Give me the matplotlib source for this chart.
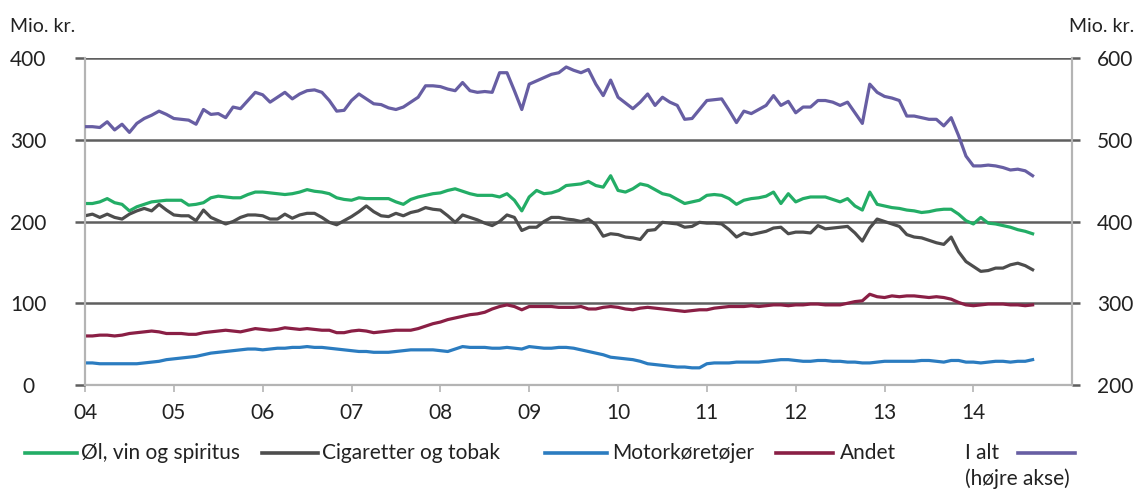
import numpy as np
import matplotlib
matplotlib.use('Agg')
import matplotlib.pyplot as plt
from matplotlib.lines import Line2D

plt.rcParams['font.family'] = ['Lato', 'DejaVu Sans']

# monthly values, jan 2004 - sep 2014 (mio. kr.)
ol_vin = [222, 222, 224, 228, 223, 221, 213, 218, 221, 224, 225, 226,
          226, 226, 220, 221, 223, 229, 231, 230, 229, 229, 233, 236,
          236, 235, 234, 233, 234, 236, 239, 237, 236, 234, 229, 227,
          226, 229, 228, 228, 228, 228, 224, 221, 227, 230, 232, 234,
          235, 238, 240, 237, 234, 232, 232, 232, 230, 234, 226, 213,
          230, 238, 234, 235, 238, 244, 245, 246, 249, 244, 242, 256,
          238, 236, 240, 246, 244, 239, 234, 232, 227, 222, 224, 226,
          232, 233, 232, 228, 221, 226, 228, 229, 231, 236, 222, 234,
          224, 228, 230, 230, 230, 227, 224, 228, 219, 214, 236, 221,
          219, 217, 216, 214, 213, 211, 212, 214, 215, 215, 209, 201,
          197, 205, 198, 197, 195, 193, 190, 188, 185]
cigaretter = [207, 209, 205, 209, 205, 203, 209, 213, 216, 213, 221, 214,
              208, 207, 207, 201, 214, 205, 201, 197, 200, 205, 208, 208,
              207, 203, 203, 209, 204, 208, 210, 210, 205, 199, 196, 201,
              206, 212, 219, 212, 207, 206, 210, 207, 211, 213, 217, 215,
              214, 207, 199, 208, 205, 202, 198, 195, 200, 208, 205, 189,
              193, 193, 200, 205, 205, 203, 202, 200, 203, 196, 182, 185,
              184, 181, 180, 178, 189, 190, 199, 198, 197, 193, 194, 199,
              198, 198, 197, 190, 181, 186, 184, 186, 188, 192, 193, 185,
              187, 187, 186, 195, 191, 192, 193, 194, 186, 176, 192, 203,
              200, 197, 194, 184, 181, 180, 177, 174, 172, 181, 163, 151,
              145, 139, 140, 143, 143, 147, 149, 146, 141]
motor = [27, 27, 26, 26, 26, 26, 26, 26, 27, 28, 29, 31,
         32, 33, 34, 35, 37, 39, 40, 41, 42, 43, 44, 44,
         43, 44, 45, 45, 46, 46, 47, 46, 46, 45, 44, 43,
         42, 41, 41, 40, 40, 40, 41, 42, 43, 43, 43, 43,
         42, 41, 44, 47, 46, 46, 46, 45, 45, 46, 45, 44,
         47, 46, 45, 45, 46, 46, 45, 43, 41, 39, 37, 34,
         33, 32, 31, 29, 26, 25, 24, 23, 22, 22, 21, 21,
         26, 27, 27, 27, 28, 28, 28, 28, 29, 30, 31, 31,
         30, 29, 29, 30, 30, 29, 29, 28, 28, 27, 27, 28,
         29, 29, 29, 29, 29, 30, 30, 29, 28, 30, 30, 28,
         28, 27, 28, 29, 29, 28, 29, 29, 31]
andet = [60, 60, 61, 61, 60, 61, 63, 64, 65, 66, 65, 63,
         63, 63, 62, 62, 64, 65, 66, 67, 66, 65, 67, 69,
         68, 67, 68, 70, 69, 68, 69, 68, 67, 67, 64, 64,
         66, 67, 66, 64, 65, 66, 67, 67, 67, 69, 72, 75,
         77, 80, 82, 84, 86, 87, 89, 93, 96, 98, 96, 92,
         96, 96, 96, 96, 95, 95, 95, 96, 93, 93, 95, 96,
         95, 93, 92, 94, 95, 94, 93, 92, 91, 90, 91, 92,
         92, 94, 95, 96, 96, 96, 97, 96, 97, 98, 98, 97,
         98, 98, 99, 99, 98, 98, 98, 100, 102, 103, 111, 108,
         107, 109, 108, 109, 109, 108, 107, 108, 107, 105, 101, 98,
         97, 98, 99, 99, 99, 98, 98, 97, 98]
i_alt = [516, 516, 515, 522, 512, 519, 509, 520, 526, 530, 535, 531,
         526, 525, 524, 519, 537, 531, 532, 527, 540, 538, 548, 558,
         555, 546, 552, 558, 550, 556, 560, 561, 558, 548, 535, 536,
         548, 556, 550, 544, 543, 539, 537, 540, 546, 552, 566, 566,
         565, 562, 560, 570, 560, 558, 559, 558, 582, 582, 560, 537,
         568, 572, 576, 580, 582, 589, 585, 582, 586, 568, 554, 573,
         552, 545, 538, 546, 556, 542, 552, 546, 542, 525, 526, 537,
         548, 549, 550, 536, 521, 535, 532, 537, 542, 554, 542, 547,
         533, 540, 540, 548, 548, 546, 542, 546, 533, 520, 568, 558,
         553, 551, 548, 529, 529, 527, 525, 525, 517, 527, 505, 480,
         468, 468, 469, 468, 466, 463, 464, 462, 456]

years = list(range(2004, 2015))
year_labels = ['04', '05', '06', '07', '08', '09', '10', '11', '12', '13', '14']

t = 2004 + np.arange(len(i_alt)) / 12.0

W, H = 1138, 491
fs = 15
txt_c = '#222222'
fig = plt.figure(figsize=(W / 100, H / 100), dpi=100)
ax = fig.add_axes([85 / W, 1 - 385 / H, (1072 - 85) / W, (385 - 58) / H])
ax2 = ax.twinx()

ax.plot(t, ol_vin, color='#23ad66', lw=2.3, zorder=3)
ax.plot(t, cigaretter, color='#4d4d4d', lw=2.3, zorder=3)
ax.plot(t, motor, color='#2b7cc0', lw=2.3, zorder=3)
ax.plot(t, andet, color='#8a1f45', lw=2.3, zorder=3)
ax2.plot(t, i_alt, color='#675ea3', lw=2.3, zorder=3)

ax.set_xlim(2004, 2015.11)
ax.set_ylim(0, 400)
ax2.set_ylim(200, 600)
ax.set_yticks([0, 100, 200, 300, 400])
ax2.set_yticks([200, 300, 400, 500, 600])
ax.set_xticks(years)
ax.set_xticklabels(year_labels)

grid_c = '#5f5f5f'
light = '#b4b4b4'
ax.grid(axis='y', color=grid_c, lw=1.8)
ax.yaxis.get_gridlines()[0].set_color(light)
ax.yaxis.get_gridlines()[0].set_linewidth(1.5)
ax.set_axisbelow(True)

for a in (ax, ax2):
    a.spines['top'].set_visible(False)
    for s in ['left', 'right', 'bottom']:
        a.spines[s].set_color(light)
        a.spines[s].set_linewidth(1.5)

ax.tick_params(axis='y', length=7, width=1.8, color=grid_c, pad=34,
               labelsize=fs, labelcolor=txt_c)
for lab in ax.get_yticklabels():
    lab.set_horizontalalignment('center')
ax.yaxis.get_major_ticks()[0].tick1line.set_color(light)
ax2.tick_params(axis='y', length=6, width=1.8, color=grid_c, pad=12,
                labelsize=fs, labelcolor=txt_c)
ax2.yaxis.get_major_ticks()[0].tick2line.set_color(light)
ax.tick_params(axis='x', length=5, width=1.2, color=light, pad=8,
               labelsize=fs, labelcolor=txt_c)

fig.text(10 / W, 1 - 27 / H, 'Mio. kr.', fontsize=14, color=txt_c,
         ha='left', va='center')
fig.text(1134 / W, 1 - 27 / H, 'Mio. kr.', fontsize=14, color=txt_c,
         ha='right', va='center')


def px(x, y):
    return x / W, 1 - y / H


# legend built by hand (Excel-style, I alt text before its line)
ly = 453
items = [(25, 77, 81, '#23ad66', 'Øl, vin og spiritus'),
         (262, 318, 322, '#4d4d4d', 'Cigaretter og tobak'),
         (545, 607, 612, '#2b7cc0', 'Motorkøretøjer'),
         (776, 833, 840, '#8a1f45', 'Andet')]
for x0, x1, xt, c, txt in items:
    (fx0, fy), (fx1, _) = px(x0, ly), px(x1, ly)
    fig.add_artist(Line2D([fx0, fx1], [fy, fy], color=c, lw=2.6,
                          transform=fig.transFigure))
    fig.text(*px(xt, ly), txt, fontsize=fs, color=txt_c,
             ha='left', va='center')
fig.text(*px(965, ly), 'I alt', fontsize=fs, color=txt_c,
         ha='left', va='center')
fig.text(*px(965, 479), '(højre akse)', fontsize=fs, color=txt_c,
         ha='left', va='center')
(fx0, fy), (fx1, _) = px(1018, ly), px(1075, ly)
fig.add_artist(Line2D([fx0, fx1], [fy, fy], color='#675ea3', lw=2.6,
                      transform=fig.transFigure))

fig.savefig('out.png', dpi=100)
